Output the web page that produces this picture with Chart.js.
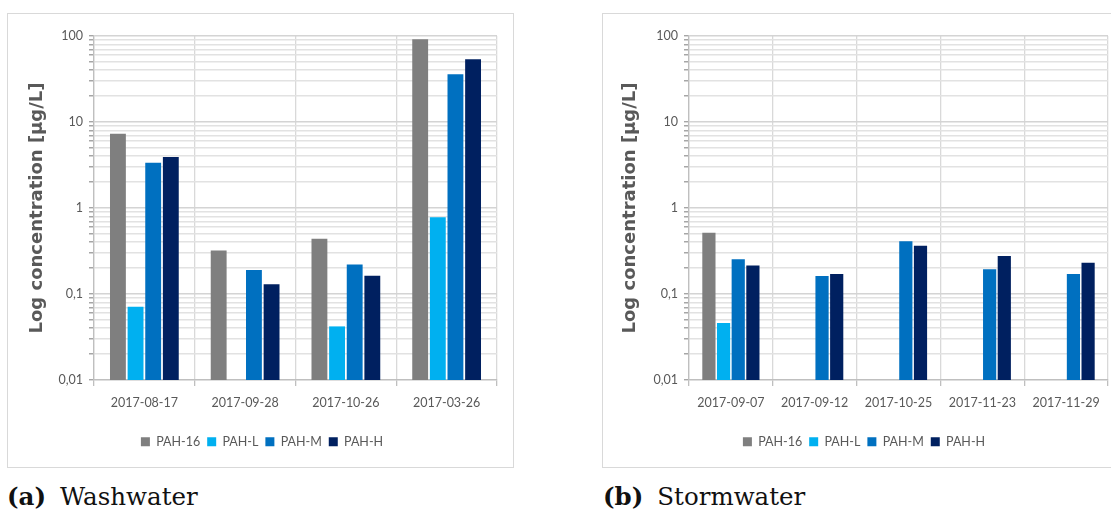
<!DOCTYPE html>
<html>
<head>
<meta charset="utf-8">
<script src="https://cdn.jsdelivr.net/npm/chart.js@4.4.0/dist/chart.umd.min.js"></script>
<style>
body { margin: 0; background: #fff; width: 1111px; height: 509px; position: relative; overflow: hidden; }
.frame { position: absolute; border: 1.5px solid #d9d9d9; box-sizing: border-box; }
canvas { position: absolute; }
.cap { position: absolute; font-family: "DejaVu Serif", serif; font-size: 24.5px; line-height: 24px; color: #111; white-space: nowrap; }
.cap span { margin-left: 14px; }
</style>
</head>
<body>
<div class="frame" style="left:7px;top:13px;width:507px;height:455px"></div>
<div class="frame" style="left:602px;top:13px;width:515px;height:455px"></div>
<canvas id="washwater" width="505" height="453" style="left:8px;top:14px"></canvas>
<canvas id="stormwater" width="508" height="453" style="left:603px;top:14px"></canvas>
<div class="cap" style="left:7px;top:485px"><b>(a)</b><span>Washwater</span></div>
<div class="cap" style="left:603px;top:485px"><b>(b)</b><span>Stormwater</span></div>
<script>
// washwater samples
var washDates = ['2017-08-17', '2017-09-28', '2017-10-26', '2017-03-26'];
var washPAH16 = [7.3, 0.32, 0.44, 91.5];
var washPAHL = [0.071, null, 0.042, 0.78];
var washPAHM = [3.36, 0.19, 0.22, 35.9];
var washPAHH = [3.92, 0.13, 0.163, 53.6];

// stormwater samples
var stormDates = ['2017-09-07', '2017-09-12', '2017-10-25', '2017-11-23', '2017-11-29'];
var stormPAH16 = [0.515, null, null, null, null];
var stormPAHL = [0.046, null, null, null, null];
var stormPAHM = [0.253, 0.162, 0.41, 0.194, 0.171];
var stormPAHH = [0.214, 0.171, 0.364, 0.276, 0.231];

var seriesNames = ['PAH-16', 'PAH-L', 'PAH-M', 'PAH-H'];
var seriesColors = ['#7f7f7f', '#00b0f0', '#0070c0', '#002060'];
var decades = [0.01, 0.1, 1, 10, 100];

var txtGrey = '#595959';
var sansFont = 'Lato';

function isDecade(v) {
    var l = Math.log10(v);
    return Math.abs(l - Math.round(l)) < 1e-9;
}

function makeChart(id, labels, values, padLeft, axisWidth, padRight) {
    var datasets = [];
    for (var i = 0; i < seriesNames.length; i++) {
        datasets.push({
            label: seriesNames[i],
            data: values[i],
            backgroundColor: seriesColors[i],
            borderWidth: 0,
            categoryPercentage: 0.7,
            barPercentage: 0.9
        });
    }
    return new Chart(document.getElementById(id), {
        type: 'bar',
        data: { labels: labels, datasets: datasets },
        options: {
            responsive: false,
            animation: false,
            layout: { padding: { left: padLeft, right: padRight, top: 22, bottom: 9 } },
            plugins: {
                tooltip: { enabled: false },
                legend: {
                    position: 'bottom',
                    labels: {
                        boxWidth: 9, boxHeight: 9, padding: 7,
                        color: txtGrey,
                        font: { family: sansFont, size: 12.5 }
                    }
                }
            },
            scales: {
                x: {
                    afterFit: function (scale) { scale.height += 9.5; },
                    grid: { color: '#d9d9d9', lineWidth: 1.3, tickLength: 6, tickColor: '#bfbfbf' },
                    border: { color: '#bfbfbf', width: 1.3 },
                    ticks: { color: txtGrey, font: { family: sansFont, size: 12.5 }, padding: 9, maxRotation: 0 }
                },
                y: {
                    type: 'logarithmic',
                    min: 0.01,
                    max: 100,
                    // 1..9 in every decade, labels only on the decades
                    afterBuildTicks: function (scale) {
                        var t = [];
                        for (var d = 0; d < decades.length; d++) {
                            for (var k = 1; k <= 9; k++) {
                                var v = parseFloat((decades[d] * k).toPrecision(6));
                                if (v <= 100) t.push({ value: v });
                            }
                        }
                        scale.ticks = t;
                    },
                    afterFit: function (scale) { scale.width = axisWidth; },
                    grid: {
                        color: function (c) { return isDecade(c.tick.value) ? '#d4d4d4' : '#e2e2e2'; },
                        lineWidth: function (c) { return isDecade(c.tick.value) ? 1.4 : 1.5; },
                        tickColor: '#a6a6a6',
                        tickLength: 5
                    },
                    border: { color: '#bfbfbf', width: 1.3 },
                    ticks: {
                        autoSkip: false,
                        color: txtGrey,
                        padding: 6,
                        font: { family: sansFont, size: 12.5 },
                        callback: function (v) {
                            return isDecade(v) ? String(v).replace('.', ',') : '';
                        }
                    },
                    title: {
                        display: true,
                        text: 'Log concentration [µg/L]',
                        color: txtGrey,
                        padding: { top: 0, bottom: 0 },
                        font: { family: 'DejaVu Sans', size: 18, weight: 'bold' }
                    }
                }
            }
        }
    });
}

makeChart('washwater', washDates, [washPAH16, washPAHL, washPAHM, washPAHH], 19, 67, 16);
makeChart('stormwater', stormDates, [stormPAH16, stormPAHL, stormPAHM, stormPAHH], 17, 69, 3);
</script>
</body>
</html>
